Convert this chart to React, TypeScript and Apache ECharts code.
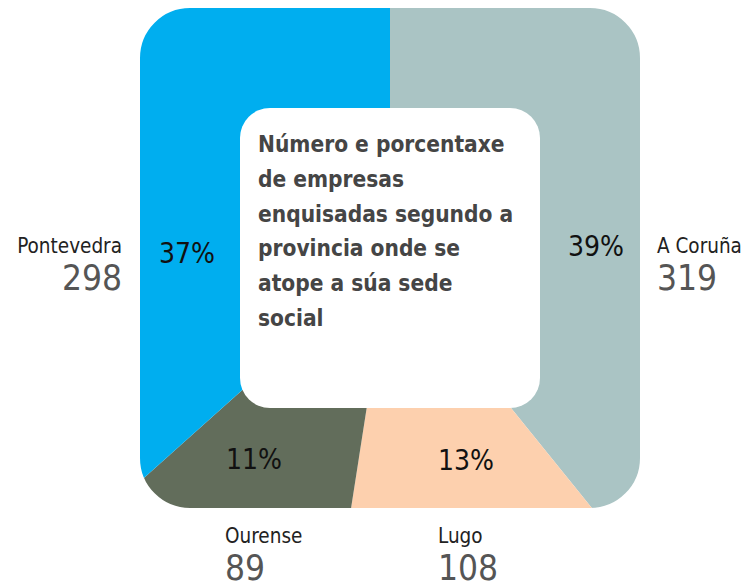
import React, { useEffect, useRef } from "react";
import * as echarts from "echarts";

const provinces = ["A Coruña", "Lugo", "Ourense", "Pontevedra"];
const companies = [319, 108, 89, 298];
const colors = ["#AAC4C4", "#FDD0AE", "#626D5B", "#00AEEF"];
const titleLines = [
  "Número e porcentaxe",
  "de empresas",
  "enquisadas segundo a",
  "provincia onde se",
  "atope a súa sede",
  "social",
];

const FONT = "'DejaVu Sans Condensed', 'Noto Sans', sans-serif";

export default function App() {
  const ref = useRef<HTMLDivElement>(null);
  useEffect(() => {
    if (!ref.current) return;
    document.body.style.margin = "0";
    const chart = echarts.init(ref.current, null, { renderer: "svg" });
    const total = companies.reduce((a, b) => a + b, 0);
    const pct = companies.map((v) => Math.round((v / total) * 100) + "%");

    // label anchors (layout only)
    const pctPos = [
      [596, 246],
      [466, 460],
      [254, 459],
      [187, 253],
    ];
    const namePos: Array<[number, number, string]> = [
      [657, 246, "left"],
      [438, 536, "left"],
      [225, 536, "left"],
      [122, 246, "right"],
    ];

    const graphics: any[] = [
      {
        type: "rect",
        z: 100,
        silent: true,
        shape: { x: 40, y: -92, width: 700, height: 700, r: 150 },
        style: { fill: "none", stroke: "#ffffff", lineWidth: 200 },
      },
      {
        type: "rect",
        z: 101,
        silent: true,
        shape: { x: 240, y: 108, width: 300, height: 300, r: 30 },
        style: { fill: "#ffffff" },
      },
    ];
    titleLines.forEach((line, i) => {
      graphics.push({
        type: "text",
        z: 110,
        x: 258,
        y: 144 + i * 34.8,
        style: {
          text: line,
          fill: "#454545",
          font: `bold 22.5px ${FONT}`,
          textAlign: "left",
          textVerticalAlign: "middle",
        },
      });
    });
    provinces.forEach((p, i) => {
      graphics.push({
        type: "text",
        z: 110,
        x: pctPos[i][0],
        y: pctPos[i][1],
        style: {
          text: pct[i],
          fill: "#111111",
          font: `28px ${FONT}`,
          textAlign: "center",
          textVerticalAlign: "middle",
        },
      });
      const [nx, ny, al] = namePos[i];
      graphics.push({
        type: "text",
        z: 110,
        x: nx,
        y: ny,
        style: {
          text: p,
          fill: "#222222",
          font: `20.5px ${FONT}`,
          textAlign: al,
          textVerticalAlign: "middle",
        },
      });
      graphics.push({
        type: "text",
        z: 110,
        x: nx,
        y: ny + 32,
        style: {
          text: String(companies[i]),
          fill: "#555555",
          font: `35px ${FONT}`,
          textAlign: al,
          textVerticalAlign: "middle",
        },
      });
    });

    chart.setOption({
      animation: false,
      backgroundColor: "#ffffff",
      series: [
        {
          type: "pie",
          center: [390, 258],
          radius: [0, 420],
          startAngle: 90,
          clockwise: true,
          silent: true,
          label: { show: false },
          labelLine: { show: false },
          itemStyle: { borderWidth: 0 },
          data: provinces.map((p, i) => ({
            name: p,
            value: companies[i],
            itemStyle: { color: colors[i] },
          })),
        },
      ],
      graphic: graphics,
    });
    return () => chart.dispose();
  }, []);
  return (
    <div
      ref={ref}
      style={{ position: "fixed", left: 0, top: 0, width: 744, height: 587 }}
    />
  );
}
